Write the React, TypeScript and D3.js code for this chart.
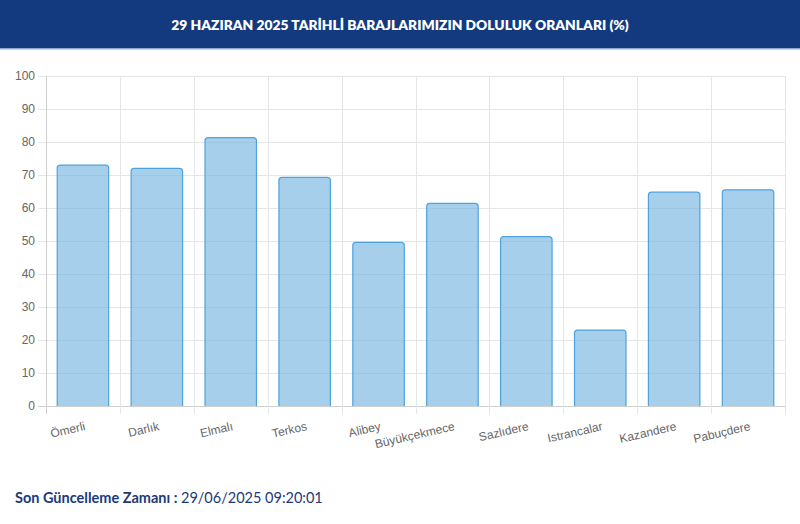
import React, { useEffect, useRef } from "react";
import * as d3 from "d3";

const dams = [
  "Ömerli",
  "Darlık",
  "Elmalı",
  "Terkos",
  "Alibey",
  "Büyükçekmece",
  "Sazlıdere",
  "Istrancalar",
  "Kazandere",
  "Pabuçdere",
];
const fillRates = [73.0, 72.0, 81.3, 69.3, 49.6, 61.4, 51.3, 23.0, 64.8, 65.5];
const yTicks = [0, 10, 20, 30, 40, 50, 60, 70, 80, 90, 100];

const title = "29 HAZIRAN 2025 TARİHLİ BARAJLARIMIZIN DOLULUK ORANLARI (%)";

const App: React.FC = () => {
  const svgRef = useRef<SVGSVGElement | null>(null);

  useEffect(() => {
    if (!svgRef.current) return;
    document.body.style.margin = "0";

    const width = 800;
    const height = 524;
    const margin = { top: 76, right: 15, bottom: 118, left: 46 };

    d3.select(svgRef.current).selectAll("*").remove();
    const svg = d3
      .select(svgRef.current)
      .attr("width", width)
      .attr("height", height);

    // header band
    svg.append("rect").attr("x", 0).attr("y", 0).attr("width", width).attr("height", 48).attr("fill", "#133a7e");
    svg.append("rect").attr("x", 0).attr("y", 48).attr("width", width).attr("height", 1.5).attr("fill", "#8fa6d0");
    svg
      .append("text")
      .attr("x", width / 2)
      .attr("y", 24)
      .attr("text-anchor", "middle")
      .attr("dominant-baseline", "central")
      .attr("fill", "white")
      .style("font-family", "Lato, 'Open Sans', sans-serif")
      .style("font-weight", "800")
      .style("font-size", "13.8px")
      .text(title);

    const x = d3
      .scaleBand()
      .domain(dams)
      .range([margin.left, width - margin.right])
      .paddingInner(0.29)
      .paddingOuter(0.145);
    const xGrid = d3
      .scaleBand()
      .domain(dams)
      .range([margin.left, width - margin.right]);

    const y = d3
      .scaleLinear()
      .domain([0, 100])
      .range([height - margin.bottom, margin.top]);

    const y0 = y(0);

    // horizontal grid + ticks
    svg
      .append("g")
      .selectAll("line")
      .data(yTicks)
      .enter()
      .append("line")
      .attr("x1", margin.left - 8)
      .attr("x2", width - margin.right)
      .attr("y1", (d) => Math.round(y(d)) + 0.5)
      .attr("y2", (d) => Math.round(y(d)) + 0.5)
      .attr("stroke", (d) => (d === 0 ? "#cfcfcf" : "#e6e6e6"))
      .attr("stroke-width", 1);

    // vertical grid lines
    const vx = [...dams.map((d) => xGrid(d)!), width - margin.right];
    svg
      .append("g")
      .selectAll("line")
      .data(vx)
      .enter()
      .append("line")
      .attr("x1", (d) => Math.round(d) + 0.5)
      .attr("x2", (d) => Math.round(d) + 0.5)
      .attr("y1", margin.top)
      .attr("y2", y0 + 8)
      .attr("stroke", (d, i) => (i === 0 ? "#cfcfcf" : "#e6e6e6"))
      .attr("stroke-width", 1);

    // y labels
    svg
      .append("g")
      .selectAll("text")
      .data(yTicks)
      .enter()
      .append("text")
      .attr("x", margin.left - 11)
      .attr("y", (d) => y(d))
      .attr("text-anchor", "end")
      .attr("dominant-baseline", "central")
      .attr("fill", "#666")
      .style("font-family", "'Liberation Sans', Arial, sans-serif")
      .style("font-size", "12px")
      .text((d) => d);

    // bars with rounded top
    const r = 3;
    svg
      .append("g")
      .selectAll("path")
      .data(dams)
      .enter()
      .append("path")
      .attr("d", (d, i) => {
        const x0 = x(d)! + 0.5;
        const x1 = x(d)! + x.bandwidth() - 0.5;
        const top = y(fillRates[i]);
        return `M${x0},${y0}V${top + r}Q${x0},${top} ${x0 + r},${top}H${x1 - r}Q${x1},${top} ${x1},${top + r}V${y0}`;
      })
      .attr("fill", "rgba(122,184,225,0.68)")
      .attr("stroke", "#4ea3dc")
      .attr("stroke-width", 1.2);

    // x labels, rotated
    svg
      .append("g")
      .selectAll("text")
      .data(dams)
      .enter()
      .append("text")
      .attr(
        "transform",
        (d) => `translate(${xGrid(d)! + xGrid.bandwidth() / 2 + 2},${y0 + 20}) rotate(-13)`
      )
      .attr("text-anchor", "end")
      .attr("dominant-baseline", "central")
      .attr("fill", "#666")
      .style("font-family", "'Liberation Sans', Arial, sans-serif")
      .style("font-size", "12px")
      .text((d) => d);

    // footer
    const footer = svg
      .append("text")
      .attr("x", 15)
      .attr("y", 503)
      .style("font-family", "Lato, 'Open Sans', sans-serif")
      .style("font-size", "14.5px")
      .attr("fill", "#1b3a78");
    footer.append("tspan").style("font-weight", "700").text("Son Güncelleme Zamanı : ");
    footer.append("tspan").style("font-weight", "400").text("29/06/2025 09:20:01");
  }, []);

  return (
    <div style={{ position: "absolute", left: 0, top: 0 }}>
      <svg ref={svgRef}></svg>
    </div>
  );
};

export default App;
